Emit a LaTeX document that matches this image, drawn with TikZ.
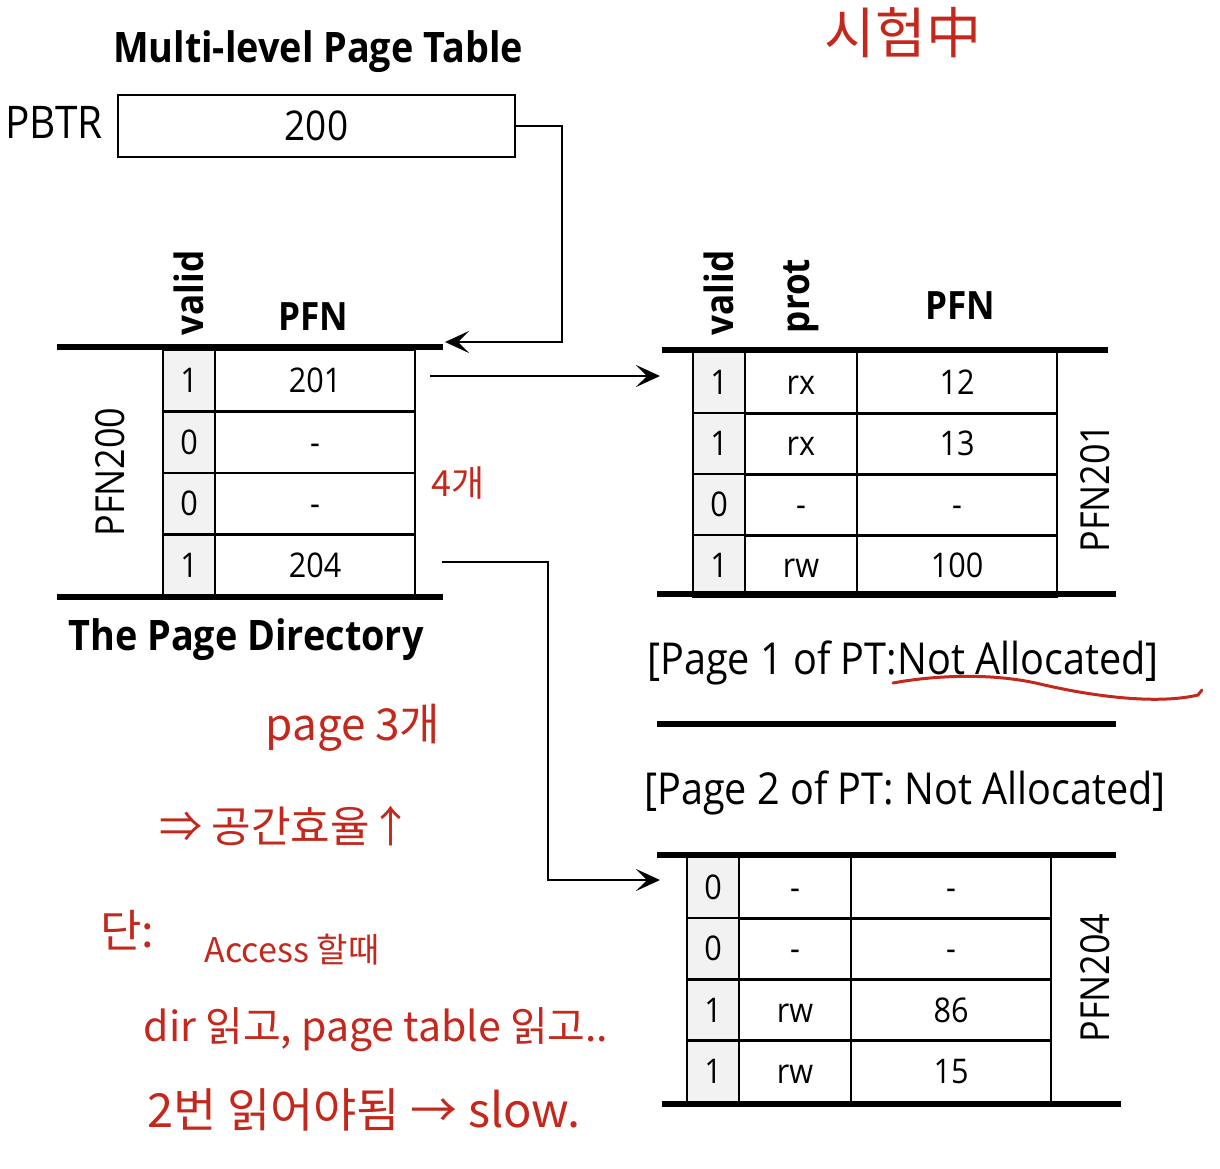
\documentclass[tikz,border=0pt]{standalone}
\usepackage{fontspec}
\setmainfont{Open Sans}[FakeStretch=0.9]
\newfontfamily\kr{Noto Sans CJK KR}
\usetikzlibrary{arrows.meta,calc}
\definecolor{ink}{HTML}{C4281C}
\definecolor{cellgray}{HTML}{F2F2F2}
\tikzset{
  cell/.style={draw, line width=2.5pt, inner sep=0pt, text height=24pt, text depth=0pt, font=\fontsize{34}{40}\selectfont},
  vcell/.style={cell, fill=cellgray, minimum width=52pt},
  rcell/.style={cell, minimum width=112pt},
  pcell/.style={cell, minimum width=200pt},
  thickline/.style={line width=5.5pt},
  conn/.style={line width=2.2pt, -{Stealth[length=24pt,width=22pt,inset=11pt]}},
  hdr/.style={font=\bfseries\fontsize{39}{44}\selectfont, inner sep=0pt},
  side/.style={font=\fontsize{40}{46}\selectfont, inner sep=0pt, rotate=90},
  note/.style={font=\fontsize{44}{50}\selectfont, inner sep=0pt},
  hand/.style={text=ink, inner sep=0pt},
}
\newcommand\dirrow[4]{%
  \node[vcell, minimum height=61.5pt] (d#1v) at (189,#2) {#3};
  \node[pcell, minimum height=61.5pt] (d#1p) at (315,#2) {#4};}
\newcommand\ptrow[6]{%
  \node[vcell, minimum height=61.5pt] (#1v) at (#2,#3) {#4};
  \node[rcell, minimum height=61.5pt] (#1r) at ($(#2,#3)+(82,0)$) {#5};
  \node[pcell, minimum height=61.5pt] (#1p) at ($(#2,#3)+(238,0)$) {#6};}
\begin{document}
\begin{tikzpicture}[x=1pt,y=-1pt]
\useasboundingbox (0,0) rectangle (1220,1168);
% title and PBTR
\node[font=\bfseries\fontsize{42}{48}\selectfont, inner sep=0pt] (title) at (318,52) {Multi-level Page Table};
\node[font=\fontsize{45}{50}\selectfont, inner sep=0pt] (pbtrlbl) at (54,122) {PBTR};
\node[draw, line width=2.5pt, minimum width=397pt, minimum height=62pt, inner sep=0pt, font=\fontsize{41}{46}\selectfont] (pbtr) at (316.5,126) {200};
% page directory
\node[hdr, rotate=90] (dvh) at (189,293) {valid};
\node[hdr] (dph) at (313,317) {PFN};
\dirrow{1}{380.75}{1}{201}
\dirrow{2}{442.25}{0}{-}
\dirrow{3}{503.75}{0}{-}
\dirrow{4}{565.25}{1}{204}
\draw[thickline] (57,347) -- (443,347);
\draw[thickline] (57,597) -- (443,597);
\node[side] (pfn200) at (110,472) {PFN200};
\node[font=\bfseries\fontsize{42}{48}\selectfont, inner sep=0pt] (dirname) at (246,640) {The Page Directory};
% page table PFN201
\node[hdr, rotate=90] (avh) at (719,293) {valid};
\node[hdr, rotate=90] (arh) at (801,296) {prot};
\node[hdr] (aph) at (960,306) {PFN};
\ptrow{a1}{719}{382.5}{1}{rx}{12}
\ptrow{a2}{719}{443.5}{1}{rx}{13}
\ptrow{a3}{719}{504.5}{0}{-}{-}
\ptrow{a4}{719}{565.5}{1}{rw}{100}
\draw[thickline] (662,350) -- (1108,350);
\draw[thickline] (657,594) -- (1116,594);
\node[side] (pfn201) at (1095,488) {PFN201};
% not allocated pages
\node[note] (pg1) at (903,663) {[Page 1 of PT:Not Allocated]};
\draw[thickline] (657,724) -- (1116,724);
\node[note] (pg2) at (905,793) {[Page 2 of PT: Not Allocated]};
% page table PFN204
\ptrow{b1}{713}{887.6}{0}{-}{-}
\ptrow{b2}{713}{948.9}{0}{-}{-}
\ptrow{b3}{713}{1010.1}{1}{rw}{86}
\ptrow{b4}{713}{1071.4}{1}{rw}{15}
\draw[thickline] (657,855) -- (1116,855);
\draw[thickline] (662,1104) -- (1121,1104);
\node[side] (pfn204) at (1095,978) {PFN204};
% connectors
\coordinate (dirin) at (445,342);
\coordinate (bend1) at (562,342);
\draw[conn] (pbtr.east) -| (bend1) -- (dirin);
\coordinate (a1s) at (430,376);
\coordinate (a1e) at (660,376);
\draw[conn] (a1s) -- (a1e);
\coordinate (a2s) at (442,562);
\coordinate (a2b) at (548,880);
\coordinate (a2e) at (660,880);
\draw[conn] (a2s) -| (a2b) -- (a2e);
% handwritten notes
\node[hand, font=\kr\fontsize{55}{60}\selectfont] (n0) at (903,33) {시험中};
\node[hand, font=\kr\fontsize{36}{40}\selectfont] (n1) at (458,483) {4개};
\node[hand, font=\kr\fontsize{44}{50}\selectfont] (n2) at (353,728) {page 3개};
\node[hand, font=\kr\fontsize{43}{48}\selectfont] (n3) at (286,826) {⇒ 공간효율↑};
\node[hand, font=\kr\fontsize{45}{50}\selectfont] (n4) at (127,930) {단:};
\node[hand, font=\kr\fontsize{34}{40}\selectfont] (n5) at (292,950) {Access 할때};
\node[hand, font=\kr\fontsize{41}{46}\selectfont] (n6) at (376,1030) {dir 읽고, page table 읽고..};
\node[hand, font=\kr\fontsize{47}{52}\selectfont] (n7) at (364,1110) {2번 읽어야됨 → slow.};
\draw[ink, line width=3pt, line cap=round] (893,683) .. controls (930,676) and (990,672) .. (1040,684) .. controls (1100,698) and (1160,704) .. (1198,695) -- (1202,690);
\end{tikzpicture}
\end{document}
